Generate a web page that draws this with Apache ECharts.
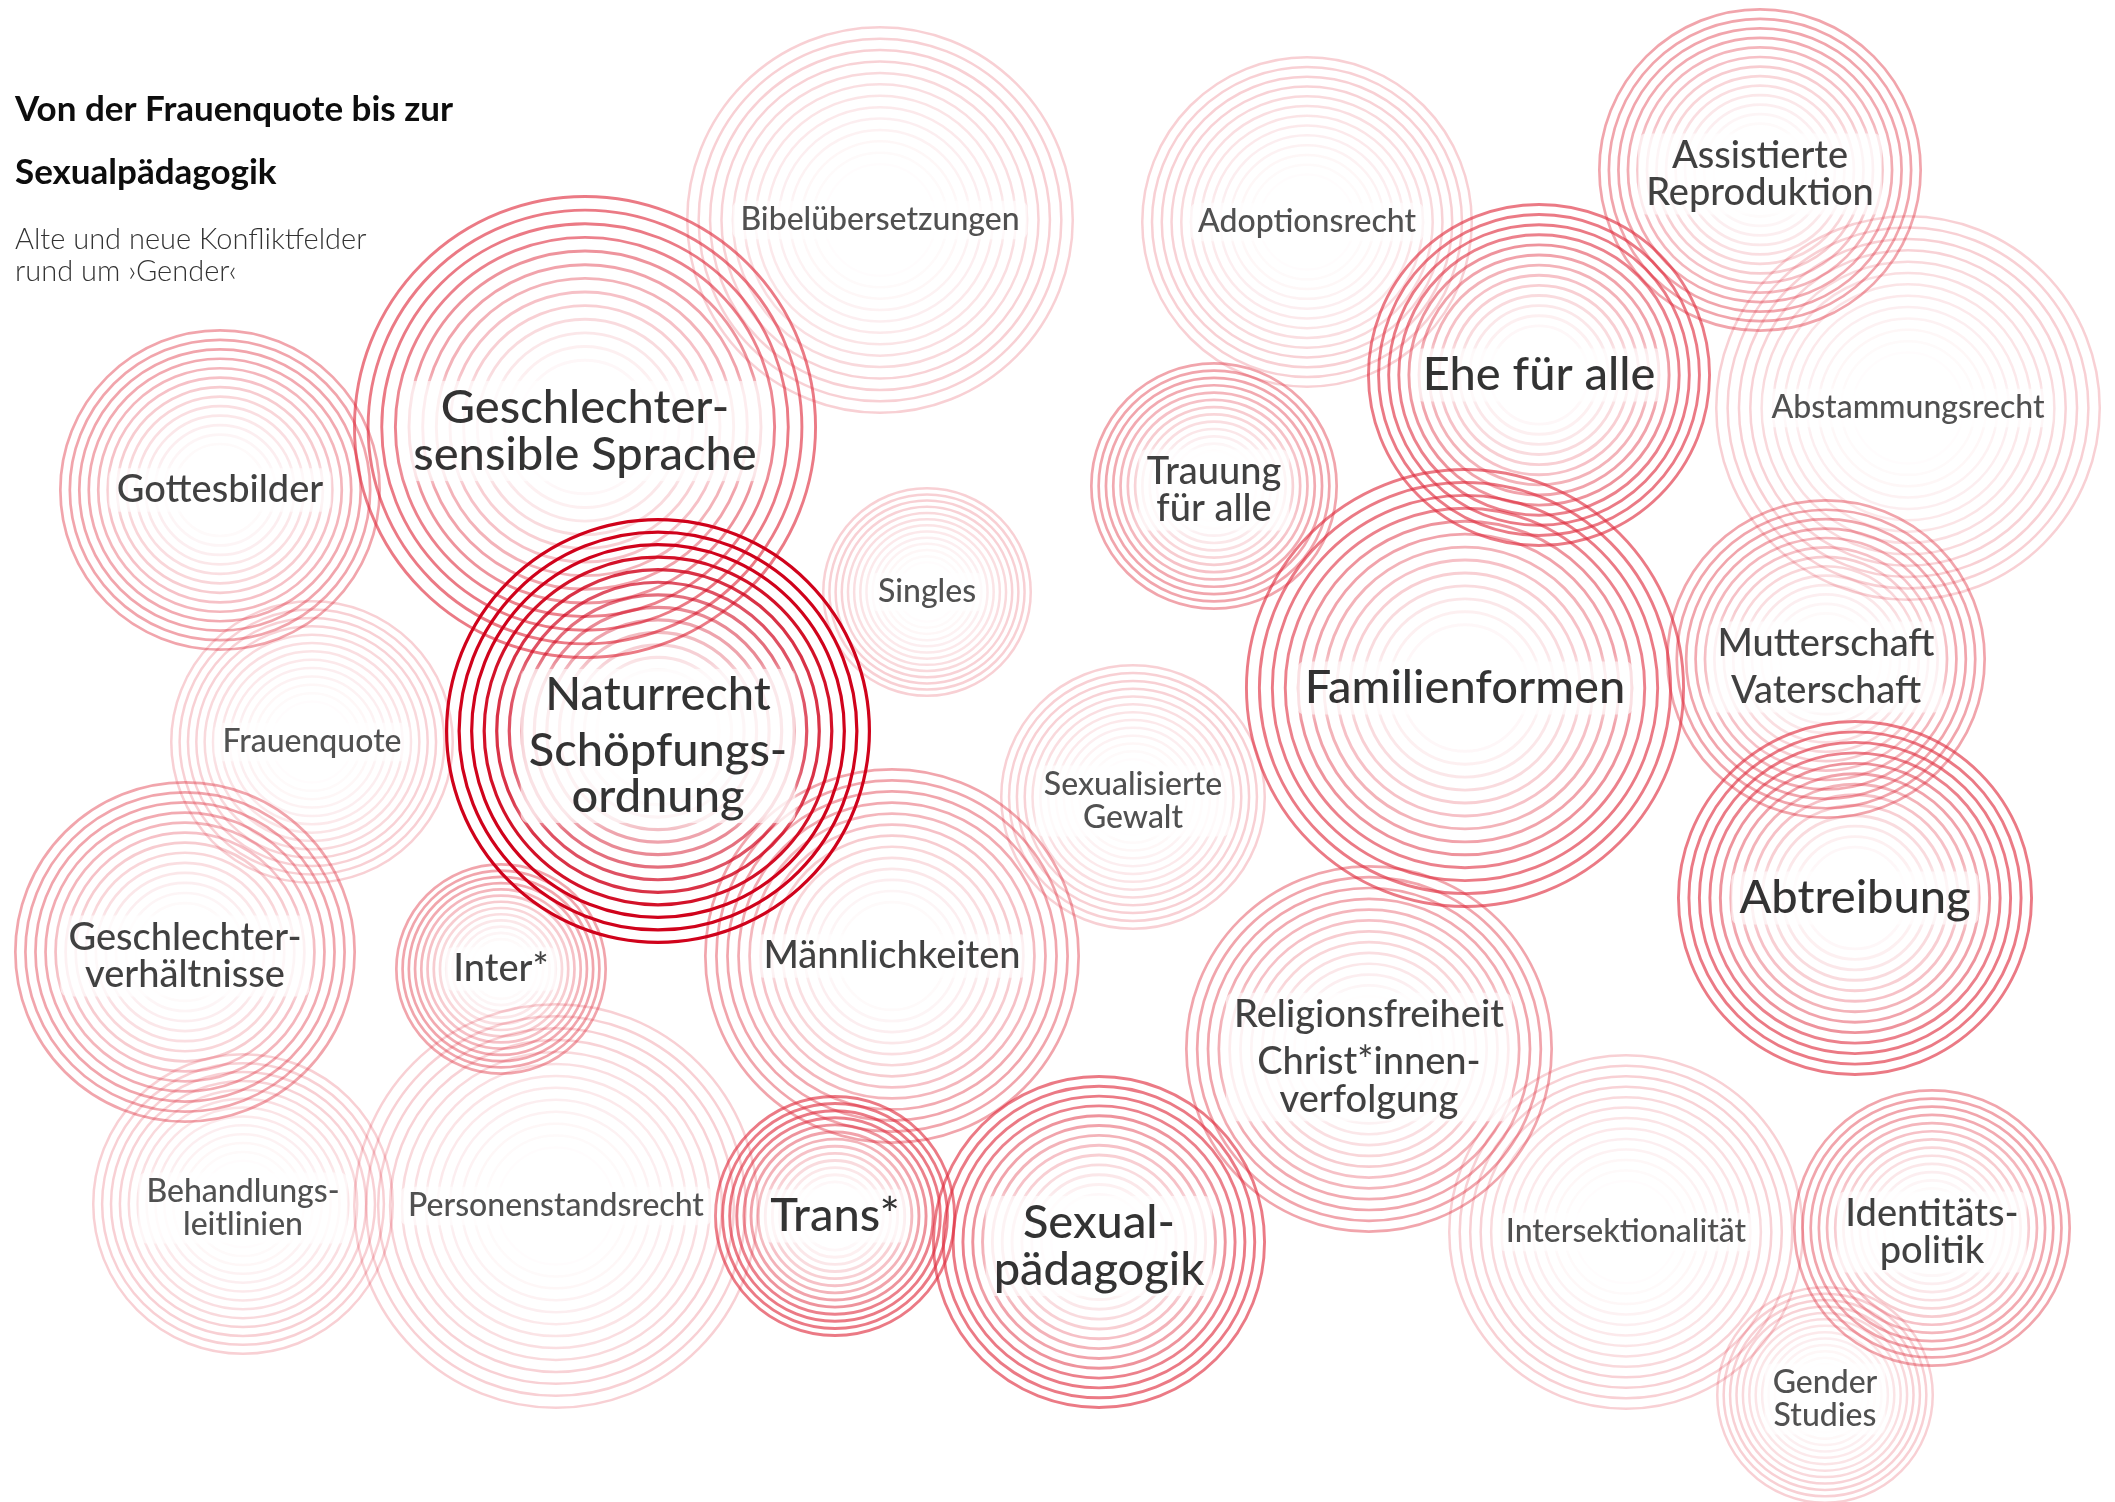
<!DOCTYPE html>
<html>
<head>
<meta charset="utf-8">
<script src="https://cdn.jsdelivr.net/npm/echarts@6/dist/echarts.min.js"></script>
<style>
html,body{margin:0;padding:0;background:#fff;}
#chart{width:2115px;height:1502px;}
</style>
</head>
<body>
<div id="chart"></div>
<script>
// ---- data (pixel space of the 2115x1502 picture) ----
const topics = [
  "Bibelübersetzungen", "Geschlechter-\nsensible Sprache", "Gottesbilder",
  "Naturrecht|Schöpfungs-\nordnung", "Singles", "Frauenquote",
  "Geschlechter-\nverhältnisse", "Inter*", "Männlichkeiten",
  "Behandlungs-\nleitlinien", "Personenstandsrecht", "Trans*",
  "Sexual-\npädagogik", "Sexualisierte\nGewalt", "Adoptionsrecht",
  "Trauung\nfür alle", "Ehe für alle", "Assistierte\nReproduktion",
  "Abstammungsrecht", "Familienformen", "Mutterschaft|Vaterschaft",
  "Abtreibung", "Religionsfreiheit|Christ*innen-\nverfolgung", "Intersektionalität",
  "Identitäts-\npolitik", "Gender\nStudies"
];
const centerX = [880, 585, 220, 658, 927, 312, 185, 501, 892, 243, 556, 835, 1099, 1133, 1307, 1214, 1539, 1760, 1908, 1465, 1826, 1855, 1369, 1626, 1932, 1825];
const centerY = [220, 427, 490, 731, 592, 742, 952, 969, 956, 1204, 1206, 1216, 1242, 797, 222, 486, 375, 170, 408, 688, 659, 898, 1049, 1232, 1228, 1395];
const radius  = [194, 232, 161, 213, 105, 142, 171, 106, 188, 151, 203, 121, 167, 133, 166, 124, 172, 162, 193, 220, 160, 178, 184, 178, 139, 109];
// conflict intensity: 1 = strongest ... 4 = weakest
const level   = [4, 2, 3, 1, 4, 4, 3, 3, 3, 4, 4, 2, 2, 4, 4, 3, 2, 3, 4, 2, 3, 2, 3, 4, 3, 4];

const titleText = "Von der Frauenquote bis zur\nSexualpädagogik";
const subtitleText = "Alte und neue Konfliktfelder\nrund um ›Gender‹";

// ---- styles ----
const ringStyle = {
  1: {rgb: '208,2,27',  alpha: 1.0,  width: 3.2},
  2: {rgb: '222,40,58', alpha: 0.62, width: 2.9},
  3: {rgb: '222,40,58', alpha: 0.42, width: 2.7},
  4: {rgb: '222,40,58', alpha: 0.22, width: 2.5}
};
const RINGS = 17;

// draw weakest first, strongest last
const order = topics.map((_, i) => i).sort((a, b) => level[b] - level[a]);
const circleData = order.map(i => [centerX[i], centerY[i], radius[i], level[i], i]);
const labelData = order.map(function (i) {
  const nLines = topics[i].split(/\n|\|/).length;
  const hasGap = topics[i].indexOf('|') >= 0;
  const dy = (nLines > 1 ? 4 : 0) + (hasGap ? (level[i] === 1 ? 11 : 4) : 0);
  return {value: [centerX[i], centerY[i], i], label: {offset: [0, dy]}};
});

function renderItem(params, api) {
  const c = api.coord([api.value(0), api.value(1)]);
  const r = api.size([api.value(2), 0])[0];
  const st = ringStyle[api.value(3)];
  const children = [];
  for (let k = 1; k <= RINGS; k++) {
    const t = k / RINGS;
    let a = Math.min(1, Math.max(0, (t - 0.2) / 0.65));
    a = Math.pow(a, 1.5) * st.alpha;
    if (a < 0.008) continue;
    children.push({
      type: 'circle',
      silent: true,
      shape: {cx: c[0], cy: c[1], r: Math.max(0, r * t - st.width / 2)},
      style: {fill: 'none', stroke: 'rgba(' + st.rgb + ',' + a.toFixed(3) + ')', lineWidth: st.width}
    });
  }
  return {type: 'group', children: children};
}

const FONT = 'Lato, "Open Sans", sans-serif';
const rich = {
  t1: {fontFamily: FONT, fontWeight: 500, fontSize: 47, lineHeight: 46, color: '#000000'},
  t2: {fontFamily: FONT, fontWeight: 500, fontSize: 47, lineHeight: 47, color: '#000000'},
  t3: {fontFamily: FONT, fontWeight: 500, fontSize: 38, lineHeight: 37.5, color: '#111111'},
  t4: {fontFamily: FONT, fontWeight: 500, fontSize: 32, lineHeight: 32.5, color: '#262626'},
  sp: {fontSize: 4, lineHeight: 10}
};

const chart = echarts.init(document.getElementById('chart'), null, {renderer: 'canvas'});
chart.setOption({
  animation: false,
  backgroundColor: '#ffffff',
  title: {
    text: titleText,
    subtext: subtitleText,
    left: 15,
    top: 78,
    padding: 0,
    itemGap: 20,
    textStyle: {fontFamily: FONT, fontWeight: 'bold', fontSize: 35, lineHeight: 63, color: '#0d0d0d'},
    subtextStyle: {fontFamily: FONT, fontWeight: 300, fontSize: 29, lineHeight: 32, color: '#333333'},
    z: 10
  },
  grid: {left: 0, right: 0, top: 0, bottom: 0},
  xAxis: {type: 'value', min: 0, max: 2115, show: false},
  yAxis: {type: 'value', min: 0, max: 1502, inverse: true, show: false},
  series: [
    {
      type: 'custom',
      renderItem: renderItem,
      data: circleData,
      z: 2,
      silent: true,
      clip: false
    },
    {
      type: 'scatter',
      data: labelData,
      symbolSize: 1,
      itemStyle: {color: 'rgba(0,0,0,0)'},
      z: 5,
      silent: true,
      label: {
        show: true,
        position: 'inside',
        align: 'center',
        verticalAlign: 'middle',
        color: '#000',
        textBorderWidth: 0,
        backgroundColor: 'rgba(255,255,255,0.72)',
        padding: [3, 8],
        borderRadius: 8,
        shadowColor: 'rgba(255,255,255,0.95)',
        shadowBlur: 12,
        rich: rich,
        formatter: function (p) {
          const idx = p.value[2];
          const L = level[idx];
          return topics[idx].split('|').map(function (part) {
            return part.split('\n').map(function (line) { return '{t' + L + '|' + line + '}'; }).join('\n');
          }).join('\n{sp| }\n');
        }
      }
    }
  ]
});
</script>
</body>
</html>
